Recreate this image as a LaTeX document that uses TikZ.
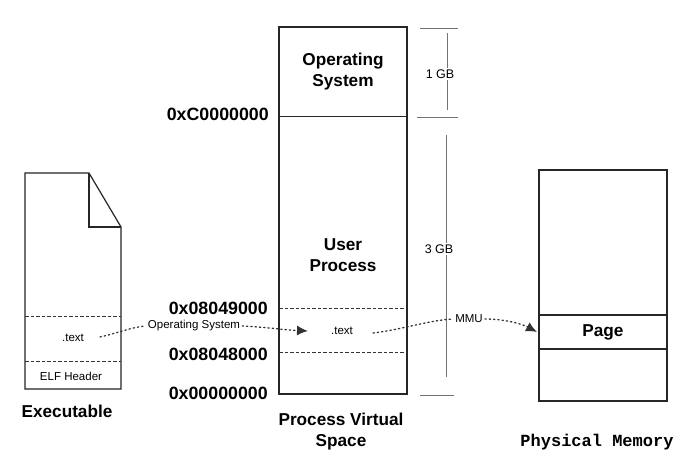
\documentclass[tikz,border=0pt]{standalone}
\usepackage{fontspec}
\setmainfont{Liberation Sans}
\setmonofont{Liberation Mono}
\usetikzlibrary{arrows.meta}
\tikzset{
  box/.style={line width=1.2pt, draw=black!85},
  secline/.style={line width=1pt, draw=black!80, dash pattern=on 3.5pt off 2pt},
  scaleline/.style={line width=0.7pt, draw=black!55},
  dotcon/.style={line width=1.3pt, draw=black!80, dash pattern=on 1.3pt off 3pt, line cap=round},
  tip/.style={-{Latex[length=11pt,width=10pt]}},
  big/.style={font=\fontsize{17.2}{21}\selectfont\bfseries, align=center, inner sep=0pt},
  small/.style={font=\fontsize{11.5}{13}\selectfont, inner sep=0pt},
  hexlbl/.style={font=\fontsize{17.8}{20}\selectfont\bfseries, anchor=east, inner sep=0pt},
  gblbl/.style={font=\fontsize{12.5}{14}\selectfont, fill=white, inner sep=1.5pt},
}
\begin{document}
\begin{tikzpicture}[x=1pt,y=-1pt]
\useasboundingbox[fill=white] (0,0) rectangle (690,460);

% Executable file
\draw[box] (25,173) -- (89,173) -- (121,227) -- (121,389) -- (25,389) -- cycle;
\draw[box] (89,173) -- (89,227) -- (121,227);
\draw[secline] (25,316) -- (121,316);
\draw[secline] (25,361) -- (121,361);
\node[small] (et) at (73,338) {.text};
\node[small] (elf) at (71,376) {ELF Header};
\node[big] (exe) at (67,411) {Executable};

% Process virtual space
\draw[box] (279,27) rectangle (407,394);
\draw[line width=1pt, draw=black!85] (279,116) -- (407,116);
\draw[secline] (279,308) -- (407,308);
\draw[secline] (279,352) -- (407,352);
\node[big] (os) at (343,72) {Operating\\System};
\node[big] (up) at (343,255) {User\\Process};
\node[small] (vt) at (342,331) {.text};
\node[big] (pvs) at (341,432) {Process Virtual\\Space};

\node[hexlbl] (hc) at (269,114) {0xC0000000};
\node[hexlbl] (h9) at (268,308) {0x08049000};
\node[hexlbl] (h8) at (268,354) {0x08048000};
\node[hexlbl] (h0) at (268,393) {0x00000000};

% Size scale
\draw[scaleline] (420,28) -- (458,28);
\draw[scaleline] (417,117) -- (458,117);
\draw[scaleline] (420,395) -- (454,395);
\draw[scaleline] (447,33) -- (447,110);
\draw[scaleline] (446,135) -- (446,377);
\node[gblbl] (g1) at (440,74) {1 GB};
\node[gblbl] (g3) at (439,249) {3 GB};

% Physical memory
\draw[box] (539,170) rectangle (667,401);
\draw[box] (539,315) -- (667,315);
\draw[box] (539,349) -- (667,349);
\node[big] (pg) at (603,332) {Page};
\node[font=\fontsize{17}{20}\selectfont\ttfamily\bfseries, inner sep=0pt] (pm) at (597,442) {Physical Memory};

% Connectors
\node[small] (osl) at (194,326) {Operating System};
\node[small] (mmu) at (469,319) {MMU};
\coordinate (a1s) at (100,337);
\coordinate (a1e) at (308,331);
\coordinate (a2s) at (373,333);
\coordinate (a2e) at (537,332);
\draw[dotcon] (a1s) .. controls (118,333) and (132,327) .. ([xshift=-2pt]osl.west);
\draw[dotcon, tip] ([xshift=2pt]osl.east) .. controls (265,327) and (285,330) .. (a1e);
\draw[dotcon] (a2s) .. controls (400,330) and (430,320) .. ([xshift=-2pt]mmu.west);
\draw[dotcon, tip] ([xshift=2pt]mmu.east) .. controls (505,319) and (522,324) .. (a2e);
\end{tikzpicture}
\end{document}
